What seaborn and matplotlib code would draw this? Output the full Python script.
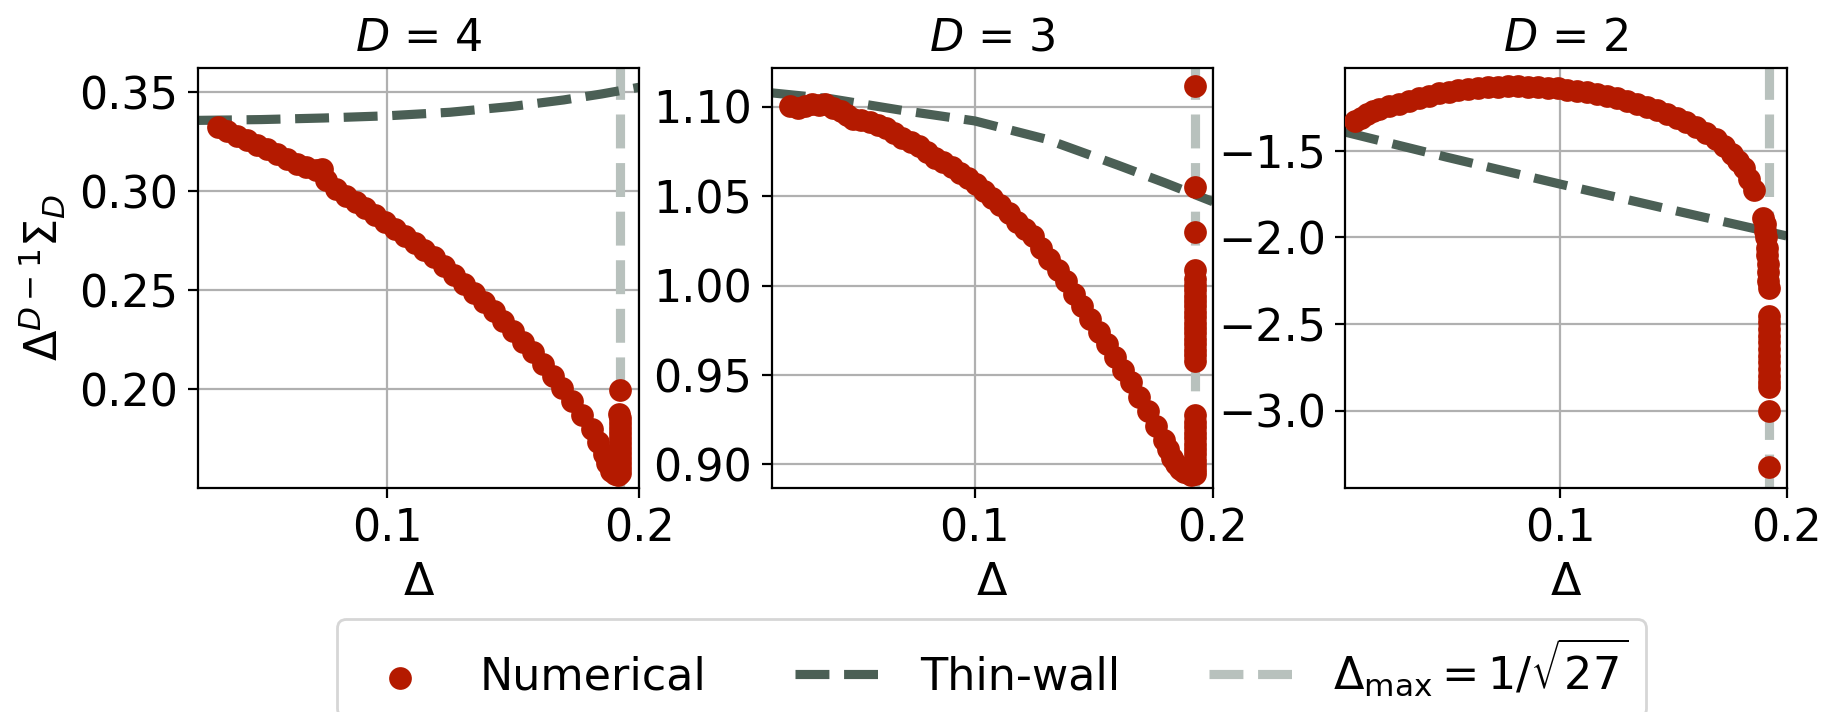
import numpy as np
import pandas as pd
import matplotlib
matplotlib.use("Agg")
import matplotlib.pyplot as plt
import seaborn as sns

# ==========================
# Data
# ==========================

delta_max = 1 / np.sqrt(27)

# D = 4 numerical
num_x_d4 = [
    0.0328, 0.0367, 0.0406, 0.0445, 0.0484, 0.0523, 0.0563, 0.0602,
    0.0641, 0.0680, 0.0719, 0.0740, 0.0758, 0.0797, 0.0836, 0.0875,
    0.0914, 0.0953, 0.0992, 0.1031, 0.1070, 0.1109, 0.1148, 0.1188,
    0.1227, 0.1266, 0.1305, 0.1344, 0.1383, 0.1422, 0.1461, 0.1500,
    0.1539, 0.1578, 0.1617, 0.1656, 0.1695, 0.1734, 0.1774, 0.1813,
    0.1836, 0.1859, 0.1873, 0.1888, 0.1903, 0.1915,
    0.1923, 0.1923, 0.1923, 0.1923, 0.1923, 0.1923, 0.1923, 0.1923,
    0.1923, 0.1922, 0.1922, 0.1922, 0.1921, 0.1924
]
num_y_d4 = [
    0.3325, 0.3303, 0.3280, 0.3258, 0.3235, 0.3212, 0.3189, 0.3164,
    0.3139, 0.3120, 0.3105, 0.3110, 0.3055, 0.3009, 0.2978, 0.2946,
    0.2914, 0.2882, 0.2846, 0.2810, 0.2774, 0.2738, 0.2702, 0.2666,
    0.2621, 0.2575, 0.2530, 0.2485, 0.2440, 0.2395, 0.2345, 0.2295,
    0.2241, 0.2187, 0.2128, 0.2069, 0.2006, 0.1943, 0.1870, 0.1798,
    0.1735, 0.1672, 0.1627, 0.1590, 0.1575, 0.1570,
    0.1580, 0.1605, 0.1630, 0.1655, 0.1680, 0.1705, 0.1730, 0.1755,
    0.1780, 0.1805, 0.1830, 0.1855, 0.1878, 0.1995
]

# D = 3 numerical
num_x_d3 = [
    0.0225, 0.0259, 0.0290, 0.0319, 0.0345, 0.0371, 0.0405, 0.0440,
    0.0465, 0.0491, 0.0525, 0.0560, 0.0594, 0.0628, 0.0662, 0.0697,
    0.0731, 0.0765, 0.0800, 0.0834, 0.0868, 0.0903, 0.0937, 0.0971,
    0.1006, 0.1040, 0.1074, 0.1108, 0.1143, 0.1177, 0.1211, 0.1245,
    0.1280, 0.1314, 0.1349, 0.1383, 0.1417, 0.1451, 0.1486, 0.1520,
    0.1554, 0.1588, 0.1623, 0.1657, 0.1691, 0.1726, 0.1760, 0.1794,
    0.1812, 0.1829, 0.1846, 0.1863, 0.1880, 0.1897, 0.1910,
    0.1923, 0.1923, 0.1923, 0.1923, 0.1923, 0.1923, 0.1923, 0.1923,
    0.1923, 0.1923, 0.1923, 0.1923,
    0.1923, 0.1923, 0.1923, 0.1923, 0.1923, 0.1923, 0.1923, 0.1923,
    0.1923, 0.1923, 0.1923, 0.1923, 0.1923, 0.1923, 0.1923, 0.1923,
    0.1923,
    0.1923, 0.1923, 0.1923
]
num_y_d3 = [
    1.1006, 1.0995, 1.1005, 1.1016, 1.1012, 1.1016, 1.0995, 1.0975,
    1.0955, 1.0935, 1.0925, 1.0915, 1.0900, 1.0884, 1.0855, 1.0824,
    1.0805, 1.0783, 1.0750, 1.0713, 1.0690, 1.0662, 1.0632, 1.0602,
    1.0567, 1.0531, 1.0490, 1.0450, 1.0405, 1.0359, 1.0320, 1.0278,
    1.0212, 1.0147, 1.0087, 1.0026, 0.9955, 0.9884, 0.9813, 0.9743,
    0.9672, 0.9601, 0.9530, 0.9460, 0.9379, 0.9298, 0.9218, 0.9137,
    0.9086, 0.9036, 0.9000, 0.8975, 0.8960, 0.8955, 0.8940,
    0.8945, 0.8970, 0.8995, 0.9025, 0.9056, 0.9086, 0.9117, 0.9147,
    0.9177, 0.9207, 0.9238, 0.9278,
    0.9581, 0.9611, 0.9641, 0.9672, 0.9702, 0.9733, 0.9763, 0.9793,
    0.9824, 0.9854, 0.9884, 0.9915, 0.9945, 0.9975, 1.0005, 1.0036,
    1.0086,
    1.0298, 1.0551, 1.1120
]

# D = 2 numerical
num_x_d2 = [
    0.0095, 0.0121, 0.0147, 0.0174, 0.0200, 0.0244, 0.0288, 0.0331,
    0.0375, 0.0419, 0.0463, 0.0507, 0.0551, 0.0594, 0.0638, 0.0682,
    0.0726, 0.0770, 0.0813, 0.0857, 0.0901, 0.0945, 0.0989, 0.1032,
    0.1076, 0.1120, 0.1164, 0.1208, 0.1252, 0.1295, 0.1339, 0.1383,
    0.1427, 0.1471, 0.1515, 0.1558, 0.1602, 0.1646, 0.1690, 0.1725,
    0.1760, 0.1786, 0.1812, 0.1834, 0.1856,
    0.1898, 0.1903, 0.1906, 0.1910, 0.1913, 0.1915, 0.1917, 0.1919,
    0.1920, 0.1922,
    0.1922, 0.1922, 0.1922, 0.1922, 0.1922, 0.1922, 0.1922, 0.1922,
    0.1922, 0.1922, 0.1922, 0.1922,
    0.1922, 0.1922
]
num_y_d2 = [
    -1.330, -1.309, -1.289, -1.273, -1.258, -1.242, -1.227, -1.211,
    -1.196, -1.182, -1.169, -1.158, -1.148, -1.142, -1.136, -1.133,
    -1.130, -1.128, -1.127, -1.129, -1.132, -1.136, -1.140, -1.147,
    -1.154, -1.162, -1.171, -1.183, -1.196, -1.211, -1.227, -1.245,
    -1.264, -1.286, -1.309, -1.335, -1.361, -1.395, -1.433, -1.474,
    -1.516, -1.557, -1.599, -1.660, -1.725,
    -1.885, -1.920, -1.961, -2.000, -2.058, -2.100, -2.152, -2.200,
    -2.250, -2.290,
    -2.452, -2.490, -2.530, -2.567, -2.605, -2.645, -2.682, -2.720,
    -2.760, -2.798, -2.835, -2.865,
    -3.000, -3.327
]

# Thin-wall approximation
thin_x_d4 = [0.025, 0.05, 0.075, 0.1, 0.125, 0.15, 0.17, 0.185, 0.2]
thin_y_d4 = [0.3357, 0.3361, 0.3369, 0.3380, 0.3398, 0.3428, 0.3460, 0.3490, 0.3524]

thin_x_d3 = [0.0148, 0.04, 0.07, 0.1, 0.13, 0.16, 0.18, 0.2]
thin_y_d3 = [1.1079, 1.1045, 1.0980, 1.0922, 1.0820, 1.0675, 1.0575, 1.0470]

thin_x_d2 = [0.0051, 0.05, 0.1, 0.15, 0.2]
thin_y_d2 = [-1.392, -1.537, -1.692, -1.843, -1.991]

dims = [4, 3, 2]
num_x = [num_x_d4, num_x_d3, num_x_d2]
num_y = [num_y_d4, num_y_d3, num_y_d2]
thin_x = [thin_x_d4, thin_x_d3, thin_x_d2]
thin_y = [thin_y_d4, thin_y_d3, thin_y_d2]

y_limits = [(0.1504, 0.3623), (0.887, 1.122), (-3.444, -1.020)]
y_ticks = [
    [0.20, 0.25, 0.30, 0.35],
    [0.90, 0.95, 1.00, 1.05, 1.10],
    [-3.0, -2.5, -2.0, -1.5]
]

# ==========================
# Style
# ==========================

red = "#b41a00"
dark = "#4b5f55"
light = "#b8c1bd"

plt.rcParams["font.size"] = 16
plt.rcParams["mathtext.fontset"] = "dejavusans"

# ==========================
# Figure
# ==========================

fig, axes = plt.subplots(1, 3, figsize=(9.115, 3.56), dpi=200)

fig.subplots_adjust(
    left=0.1086,
    right=0.980,
    top=0.905,
    bottom=0.315,
    wspace=0.30
)

for i, ax in enumerate(axes):

    ax.grid(True, color="#b0b0b0", linewidth=0.8, zorder=0)
    ax.set_axisbelow(True)

    ax.axvline(
        delta_max,
        color=light,
        linestyle="--",
        linewidth=3.3,
        zorder=1.5,
        label=r"$\Delta_{\max} = 1/\sqrt{27}$"
    )

    sns.lineplot(
        x=thin_x[i],
        y=thin_y[i],
        ax=ax,
        color=dark,
        linestyle="--",
        linewidth=3.3,
        label="Thin-wall",
        legend=False,
        zorder=2
    )

    sns.scatterplot(
        x=num_x[i],
        y=num_y[i],
        ax=ax,
        color=red,
        s=67,
        linewidth=0,
        label="Numerical",
        legend=False,
        zorder=3
    )

    ax.set_xlim(thin_x[i][0], 0.2)
    ax.set_ylim(*y_limits[i])
    ax.set_xticks([0.1, 0.2])
    ax.set_xticklabels(["0.1", "0.2"])
    ax.set_yticks(y_ticks[i])
    ax.set_yticklabels(
        ["%.2f" % v for v in y_ticks[i]] if i < 2
        else ["\u2212%.1f" % abs(v) for v in y_ticks[i]]
    )

    ax.set_title(r"$D$ = %d" % dims[i], fontsize=16)
    ax.set_xlabel(r"$\Delta$", fontsize=16)
    ax.set_ylabel("")

axes[0].set_ylabel(r"$\Delta^{D-1}\Sigma_D$", fontsize=16)

# ==========================
# Legend
# ==========================

handles, labels = axes[0].get_legend_handles_labels()
order = [labels.index("Numerical"), labels.index("Thin-wall"),
         labels.index(r"$\Delta_{\max} = 1/\sqrt{27}$")]

fig.legend(
    [handles[k] for k in order],
    [labels[k] for k in order],
    loc="upper center",
    bbox_to_anchor=(0.544, 0.162),
    ncol=3,
    fontsize=16
)

fig.savefig("out.png", dpi=200)
plt.close(fig)
